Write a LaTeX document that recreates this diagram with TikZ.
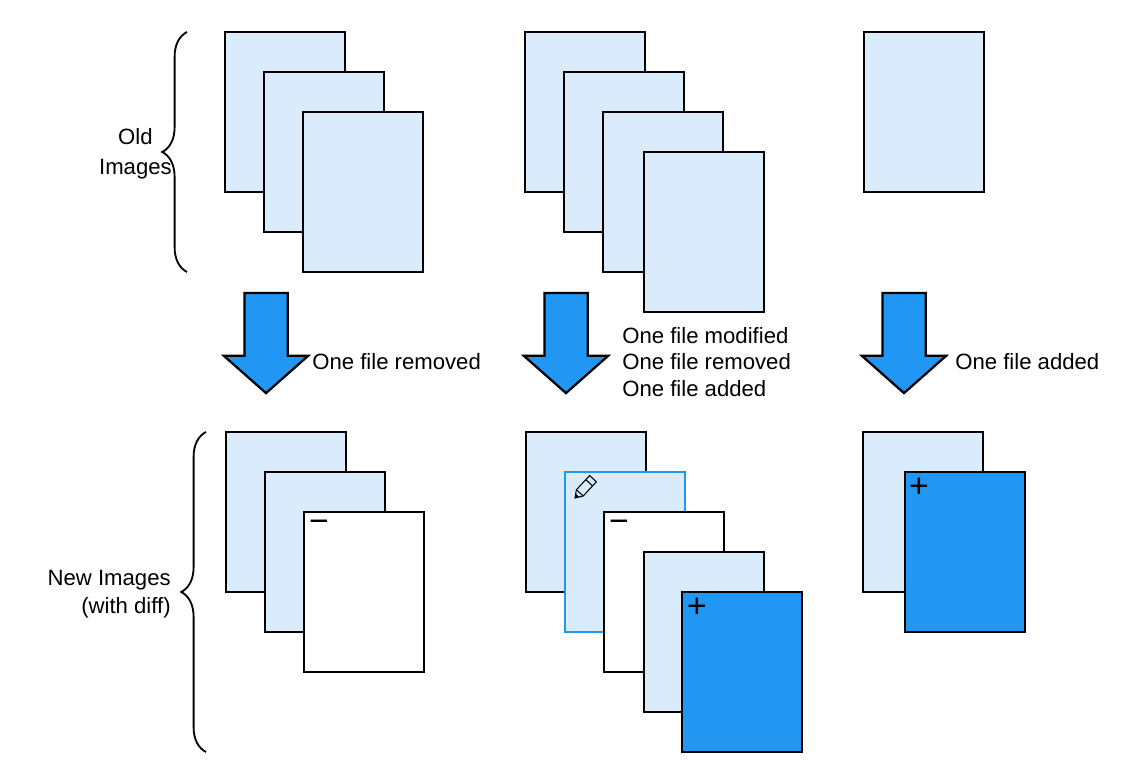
\documentclass[tikz,border=0pt]{standalone}
\usepackage{fontspec}
\setmainfont{Liberation Sans}
\usetikzlibrary{shapes.arrows,decorations.pathreplacing}
\definecolor{lightpage}{HTML}{DAECFC}
\definecolor{diffblue}{HTML}{2196F3}
\tikzstyle{oldpage} = [rectangle, minimum width=3cm, minimum height=4cm, draw=black, line width=1.6pt, fill=lightpage]
\tikzstyle{modpage} = [oldpage, draw=diffblue]
\tikzstyle{delpage} = [oldpage, fill=white]
\tikzstyle{addpage} = [oldpage, fill=diffblue]
\tikzstyle{change} = [single arrow, rotate=-90, anchor=tail, minimum width=2.05cm, minimum height=2.5cm, single arrow head extend=0.5125cm, single arrow tip angle=97, inner sep=0.5125cm, draw=black, line width=1.6pt, fill=diffblue]
\tikzstyle{note} = [font=\fontsize{15.75}{19}\selectfont, inner sep=0pt, align=left, anchor=west]
\tikzstyle{title} = [font=\fontsize{15.75}{20}\selectfont, inner sep=0pt, anchor=east]
\tikzstyle{curly} = [decorate, decoration={brace, amplitude=0.62cm}, line width=1.3pt]
\tikzstyle{sign} = [font=\fontsize{24}{24}\selectfont, inner sep=0pt]

\begin{document}
\begin{tikzpicture}
\useasboundingbox (0,0) rectangle (28.3,19.525);

% Old images
\node (olda1) [oldpage] at (7.125,16.725) {};
\node (olda2) [oldpage] at (8.1,15.725) {};
\node (olda3) [oldpage] at (9.075,14.725) {};

\node (oldb1) [oldpage] at (14.625,16.725) {};
\node (oldb2) [oldpage] at (15.6,15.725) {};
\node (oldb3) [oldpage] at (16.575,14.725) {};
\node (oldb4) [oldpage] at (17.6,13.725) {};

\node (oldc1) [oldpage] at (23.1,16.725) {};

% Arrows
\node (changea) [change] at (6.65,12.225) {};
\node (changeb) [change] at (14.15,12.225) {};
\node (changec) [change] at (22.6,12.225) {};

% Labels of the changes
\node (notea) [note] at (7.8,10.475) {One file removed};
\node (noteb) [note] at (15.55,10.475) {One file modified\\One file removed\\One file added};
\node (notec) [note] at (23.875,10.475) {One file added};

% New images
\node (newa1) [oldpage] at (7.15,6.725) {};
\node (newa2) [oldpage] at (8.125,5.725) {};
\node (newa3) [delpage] at (9.1,4.725) {};
\node (minusa) [sign] at (7.975,6.375) {−};

\node (newb1) [oldpage] at (14.65,6.725) {};
\node (newb2) [modpage] at (15.625,5.725) {};
\node (newb3) [delpage] at (16.6,4.725) {};
\node (newb4) [oldpage] at (17.6,3.725) {};
\node (newb5) [addpage] at (18.55,2.725) {};
\node (minusb) [sign] at (15.475,6.375) {−};
\node (plusb) [sign] at (17.425,4.33) {+};

\node (newc1) [oldpage] at (23.075,6.725) {};
\node (newc2) [addpage] at (24.125,5.725) {};
\node (plusc) [sign] at (22.975,7.33) {+};

% Pencil
\begin{scope}[shift={(14.375,7.075)}, rotate=47, line width=0.75pt]
\draw (0,0) -- (0.175,0.115) -- (0.66,0.115) -- (0.66,-0.115) -- (0.175,-0.115) -- cycle;
\draw (0.175,0.115) -- (0.175,-0.115);
\draw (0.52,0.115) -- (0.52,-0.115);
\fill (0,0) -- (0.09,0.06) -- (0.09,-0.06) -- cycle;
\end{scope}

% Braces
\coordinate (oldlow) at (4.675,12.725);
\coordinate (oldtop) at (4.675,18.725);
\coordinate (newlow) at (5.15,0.725);
\coordinate (newtop) at (5.15,8.725);
\draw [curly] (oldlow) -- (oldtop);
\draw [curly] (newlow) -- (newtop);

% Labels of the rows
\node (oldlabel) [title] at (4.3,15.675) {\begin{tabular}{@{}c@{}}Old\\[0.8pt]Images\end{tabular}};
\node (newlabel) [title, align=right] at (4.275,4.675) {New Images\\(with diff)};

\end{tikzpicture}
\end{document}
